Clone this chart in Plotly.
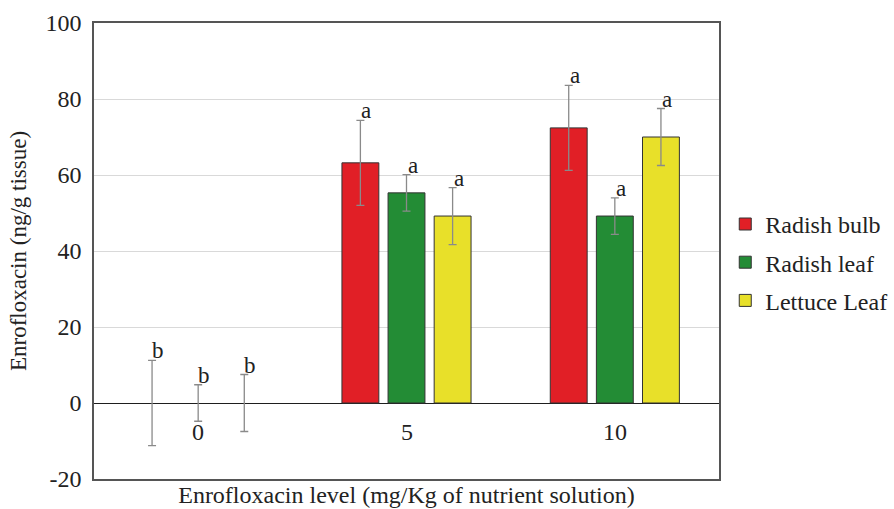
import plotly.graph_objects as go

categories = ["0", "5", "10"]
series_names = ["Radish bulb", "Radish leaf", "Lettuce Leaf"]
radish_bulb = [0, 63.2, 72.4]
radish_leaf = [0, 55.3, 49.2]
lettuce_leaf = [0, 49.2, 70.0]
radish_bulb_err = [11.2, 11.2, 11.2]
radish_leaf_err = [4.8, 4.8, 4.8]
lettuce_leaf_err = [7.5, 7.5, 7.5]
radish_bulb_letters = ["b", "a", "a"]
radish_leaf_letters = ["b", "a", "a"]
lettuce_leaf_letters = ["b", "a", "a"]
y_ticks = [-20, 0, 20, 40, 60, 80, 100]
y_tick_labels = ["-20", "0", "20", "40", "60", "80", "100"]

colors = ["#e11f26", "#238c35", "#e8e029"]
values = [radish_bulb, radish_leaf, lettuce_leaf]
errors = [radish_bulb_err, radish_leaf_err, lettuce_leaf_err]
letters = [radish_bulb_letters, radish_leaf_letters, lettuce_leaf_letters]

FONT = "Liberation Serif, Times New Roman, serif"
TXT = "#222222"
EDGE = "#333333"
BARGAP = 0.336

fig = go.Figure()
for k, name in enumerate(series_names):
    fig.add_trace(go.Bar(
        x=categories, y=values[k], name=name, legendgroup=name,
        offsetgroup=str(k), showlegend=False,
        marker=dict(color=colors[k],
                    line=dict(color=EDGE,
                              width=[1 if v != 0 else 0 for v in values[k]])),
        error_y=dict(type="data", array=errors[k], visible=True,
                     color="#8a8a8a", thickness=1.3, width=4),
    ))
for k, name in enumerate(series_names):
    fig.add_trace(go.Bar(
        x=[categories[0]], y=[None], name=name, legendgroup=name,
        offsetgroup=str(k), showlegend=True, hoverinfo="skip",
        marker=dict(color=colors[k], line=dict(color=EDGE, width=1)),
    ))

annotations = []
slot = (1 - BARGAP) / len(series_names)
for k in range(len(series_names)):
    for i, c in enumerate(categories):
        annotations.append(dict(
            x=i + (k - 1) * slot, y=values[k][i] + errors[k][i],
            xref="x", yref="y", text=letters[k][i], showarrow=False,
            yanchor="bottom", xanchor="center", xshift=6, yshift=-5,
            font=dict(family=FONT, size=23, color=TXT)))
for i, c in enumerate(categories):
    annotations.append(dict(
        x=i, y=0, xref="x", yref="y", text=c, showarrow=False,
        yanchor="middle", xanchor="center", yshift=-29,
        font=dict(family=FONT, size=24, color=TXT)))

fig.update_layout(
    width=894, height=509,
    margin=dict(l=94, r=175, t=23, b=30, autoexpand=False),
    paper_bgcolor="white", plot_bgcolor="white",
    barmode="group", bargap=BARGAP, bargroupgap=0.2,
    font=dict(family=FONT, size=24, color=TXT),
    showlegend=True,
    legend=dict(x=1.01, y=0.475, xanchor="left", yanchor="middle",
                font=dict(family=FONT, size=24, color=TXT),
                tracegroupgap=4, itemwidth=30, bgcolor="rgba(0,0,0,0)"),
    annotations=annotations,
    xaxis=dict(type="category", showticklabels=False, ticks="",
               showgrid=False, showline=True, mirror=True,
               linecolor="#555555", linewidth=1.5, zeroline=False,
               range=[-0.5, 2.5], automargin=False,
               title=dict(text="Enrofloxacin level (mg/Kg of nutrient solution)",
                          font=dict(family=FONT, size=24, color=TXT), standoff=6)),
    yaxis=dict(range=[-20, 100], tickvals=y_ticks, ticktext=y_tick_labels, ticks="",
               showgrid=True, gridcolor="#d9d9d9", gridwidth=1,
               zeroline=True, zerolinecolor="#1e1e1e", zerolinewidth=1.3,
               showline=True, mirror=True, linecolor="#555555", linewidth=1.5,
               automargin=False, ticklabelstandoff=6,
               tickfont=dict(family=FONT, size=24, color=TXT),
               title=dict(text="Enrofloxacin (ng/g tissue)",
                          font=dict(family=FONT, size=23, color=TXT), standoff=12)),
)

fig.write_html("out.html", config={"displayModeBar": False},
               post_script="document.body.style.margin='0';document.body.style.overflow='hidden';")
